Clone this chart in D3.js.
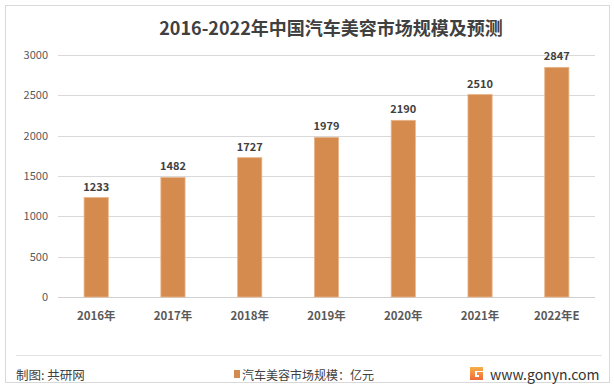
<!DOCTYPE html>
<html><head><meta charset="utf-8">
<script src="https://cdn.jsdelivr.net/npm/d3@7"></script>
<style>body{margin:0;background:#fff}svg{display:block}text{font-family:"Noto Sans CJK SC","Noto Sans",sans-serif}</style>
</head><body>
<svg id="c" width="614" height="389"></svg>
<script>
const categories = ["2016年","2017年","2018年","2019年","2020年","2021年","2022年E"];
const values = [1233,1482,1727,1979,2190,2510,2847];
const yTicks = [0,500,1000,1500,2000,2500,3000];
const title = "2016-2022年中国汽车美容市场规模及预测";
const legendLabel = "汽车美容市场规模：亿元";
const source = "制图: 共研网";
const site = "www.gonyn.com";

const svg = d3.select("#c");
svg.append("rect").attr("x",5.5).attr("y",5.5).attr("width",604).attr("height",377)
  .attr("fill","#fff").attr("stroke","#d9d9d9").attr("stroke-width",1);

const m = {l:58, r:595, t:55, b:297};
const x = d3.scaleBand().domain(categories).range([m.l,m.r]).paddingInner(0.685).paddingOuter(0.34);
const y = d3.scaleLinear().domain([0,3000]).range([m.b,m.t]);

svg.append("text").attr("x",331).attr("y",35).attr("text-anchor","middle")
  .attr("font-size",18).attr("font-weight","bold").attr("fill","#404040").text(title);

// gridlines
svg.append("g").selectAll("line").data(yTicks.filter(d=>d>0)).join("line")
  .attr("x1",m.l).attr("x2",m.r).attr("y1",d=>Math.round(y(d))+0.5).attr("y2",d=>Math.round(y(d))+0.5)
  .attr("stroke","#d9d9d9");
svg.append("line").attr("x1",m.l).attr("x2",m.r).attr("y1",Math.round(y(0))+0.5).attr("y2",Math.round(y(0))+0.5)
  .attr("stroke","#d0d0d0");

// y labels
const yAxis = d3.axisLeft(y).tickValues(yTicks).tickSize(0).tickPadding(0).tickFormat(d3.format("d"));
const gy = svg.append("g").attr("transform","translate(48,0)").call(yAxis);
gy.select(".domain").remove();
gy.selectAll("text").attr("font-size",11).attr("fill","#595959").attr("font-family","'Noto Sans','Noto Sans CJK SC',sans-serif");

// bars
svg.append("g").selectAll("rect").data(values).join("rect")
  .attr("x",(d,i)=>x(categories[i])).attr("width",x.bandwidth())
  .attr("y",d=>y(d)).attr("height",d=>y(0)-y(d))
  .attr("fill","#d58b4d").attr("stroke","#e9b48a").attr("stroke-width",0.8);

svg.append("g").selectAll("text").data(values).join("text")
  .attr("x",(d,i)=>x(categories[i])+x.bandwidth()/2).attr("y",d=>y(d)-7)
  .attr("text-anchor","middle").attr("font-size",11).attr("font-weight","bold").attr("fill","#404040")
  .attr("font-family","'Noto Sans','Noto Sans CJK SC',sans-serif")
  .text(d=>d);

// x labels
const xAxis = d3.axisBottom(x).tickSize(0).tickPadding(0);
const gx = svg.append("g").attr("transform",`translate(0,${m.b+15})`).call(xAxis);
gx.select(".domain").remove();
gx.selectAll("text").attr("font-size",11.5).attr("font-weight","bold").attr("fill","#595959");

// footer
svg.append("line").attr("x1",16).attr("x2",602).attr("y1",355.5).attr("y2",355.5).attr("stroke","#e3e3e3");
svg.append("text").attr("x",16).attr("y",380).attr("font-size",12.5).attr("fill","#404040").text(source);
svg.append("rect").attr("x",234).attr("y",370).attr("width",6).attr("height",8).attr("fill","#d58b4d");
svg.append("text").attr("x",242).attr("y",380).attr("font-size",12).attr("fill","#404040").text(legendLabel);
const defs = svg.append("defs");
const lg = defs.append("linearGradient").attr("id","lg").attr("x1",0).attr("y1",0).attr("x2",0).attr("y2",1);
lg.append("stop").attr("offset",0).attr("stop-color","#f6b04a");
lg.append("stop").attr("offset",1).attr("stop-color","#ee6a3a");
svg.append("path").attr("d","M470,367 h13 v4 h-8 v6 h4 v-2 h-2 v-3 h6 v8 h-13 z").attr("fill","url(#lg)");
svg.append("text").attr("x",490).attr("y",380).attr("font-size",14).attr("fill","#333")
  .attr("font-family","'Open Sans','Noto Sans',sans-serif").text(site);
</script>
</body></html>
